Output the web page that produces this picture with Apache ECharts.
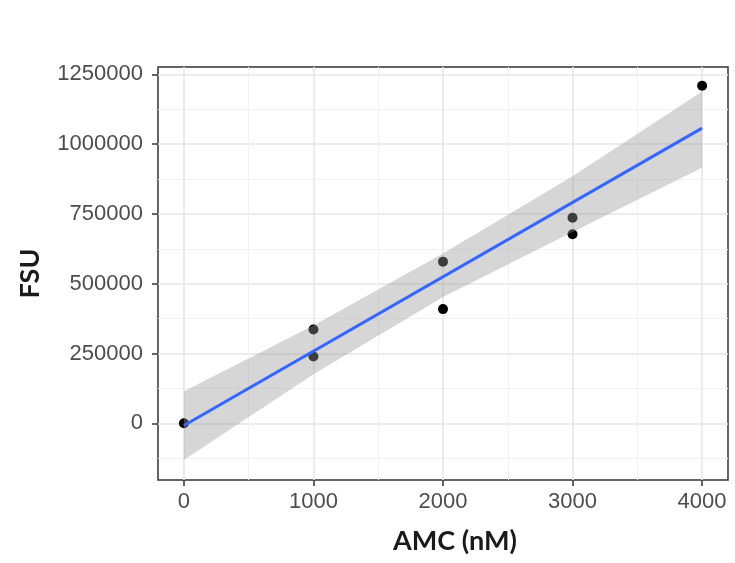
<!DOCTYPE html>
<html>
<head>
<meta charset="utf-8">
<script src="https://cdn.jsdelivr.net/npm/echarts@6/dist/echarts.min.js"></script>
<style>
  html, body { margin: 0; padding: 0; background: #fff; }
  #chart { width: 735px; height: 563px; }
</style>
</head>
<body>
<div id="chart"></div>
<script>
// measured standards
const amc = [0, 1000, 1000, 2000, 2000, 3000, 3000, 4000];
const fsu = [0, 336000, 239000, 579000, 409000, 736000, 677000, 1209000];

// fitted line (lm) and its confidence band
const fitX = [0, 4000];
const fitY = [-8000, 1057000];
const bandX = [0, 1000, 2000, 3000, 4000];
const bandLow = [-131000, 176000, 452000, 685000, 915000];
const bandHigh = [115000, 350000, 608000, 885000, 1188000];

// axis breaks
const xMajor = [0, 1000, 2000, 3000, 4000];
const xMinor = [500, 1500, 2500, 3500];
const yMajor = [0, 250000, 500000, 750000, 1000000, 1250000];
const yMinor = [-125000, 125000, 375000, 625000, 875000, 1125000];

const chart = echarts.init(document.getElementById("chart"));

const tickFont = {
  fontFamily: "Liberation Sans",
  fontSize: 22,
  color: "#4d4d4d",
};
const titleFont = {
  fontFamily: "Lato",
  fontWeight: "bold",
  fontSize: 27,
  color: "#1a1a1a",
};

// ribbon polygon: upper edge left->right, lower edge right->left
function renderBand(params, api) {
  if (params.dataIndexInside !== 0) return;
  const pts = [];
  for (let i = 0; i < bandX.length; i++) pts.push(api.coord([bandX[i], bandHigh[i]]));
  for (let i = bandX.length - 1; i >= 0; i--) pts.push(api.coord([bandX[i], bandLow[i]]));
  return {
    type: "polygon",
    shape: { points: pts },
    style: { fill: "rgba(153,153,153,0.4)" },
  };
}

const option = {
  backgroundColor: "#fff",
  animation: false,
  grid: {
    left: 158,
    top: 67,
    right: 7,
    bottom: 83,
    show: true,
    borderColor: "#333",
    borderWidth: 1.5,
    backgroundColor: "#fff",
  },
  xAxis: [
    {
      type: "value",
      min: -200,
      max: 4200,
      name: "AMC (nM)",
      nameLocation: "middle",
      nameGap: 48,
      nameTextStyle: Object.assign({ padding: [0, 0, 0, 24] }, titleFont),
      axisLine: { show: false, onZero: false },
      axisTick: { show: true, length: 6, customValues: xMajor, lineStyle: { color: "#333", width: 1.5 } },
      axisLabel: Object.assign({ margin: 11, customValues: xMajor, formatter: (v) => String(v) }, tickFont),
      splitLine: { show: true, lineStyle: { color: "#e6e6e6", width: 1.6 } },
    },
    {
      type: "value",
      min: -200,
      max: 4200,
      position: "bottom",
      axisLine: { show: false, onZero: false },
      axisTick: { show: false, customValues: xMinor },
      axisLabel: { show: false },
      splitLine: { show: true, lineStyle: { color: "#f2f2f2", width: 1 } },
    },
  ],
  yAxis: [
    {
      type: "value",
      min: -203000,
      max: 1276000,
      name: "FSU",
      nameLocation: "middle",
      nameRotate: 90,
      nameGap: 114,
      nameTextStyle: titleFont,
      axisLine: { show: false, onZero: false },
      axisTick: { show: true, length: 6, customValues: yMajor, lineStyle: { color: "#333", width: 1.5 } },
      axisLabel: Object.assign({ margin: 15, customValues: yMajor, formatter: (v) => String(v) }, tickFont),
      splitLine: { show: true, lineStyle: { color: "#e6e6e6", width: 1.6 } },
    },
    {
      type: "value",
      min: -203000,
      max: 1276000,
      position: "left",
      axisLine: { show: false, onZero: false },
      axisTick: { show: false, customValues: yMinor },
      axisLabel: { show: false },
      splitLine: { show: true, lineStyle: { color: "#f2f2f2", width: 1 } },
    },
  ],
  series: [
    {
      type: "scatter",
      z: 1,
      data: amc.map((x, i) => [x, fsu[i]]),
      symbolSize: 10,
      itemStyle: { color: "#000", opacity: 1 },
    },
    {
      type: "custom",
      z: 3,
      renderItem: renderBand,
      data: bandX.map((x, i) => [x, bandLow[i], bandHigh[i]]),
      encode: { x: 0, y: [1, 2] },
      silent: true,
    },
    {
      type: "line",
      z: 4,
      data: fitX.map((x, i) => [x, fitY[i]]),
      symbol: "none",
      lineStyle: { color: "#3366ff", width: 3 },
    },
  ],
};

chart.setOption(option);
</script>
</body>
</html>
